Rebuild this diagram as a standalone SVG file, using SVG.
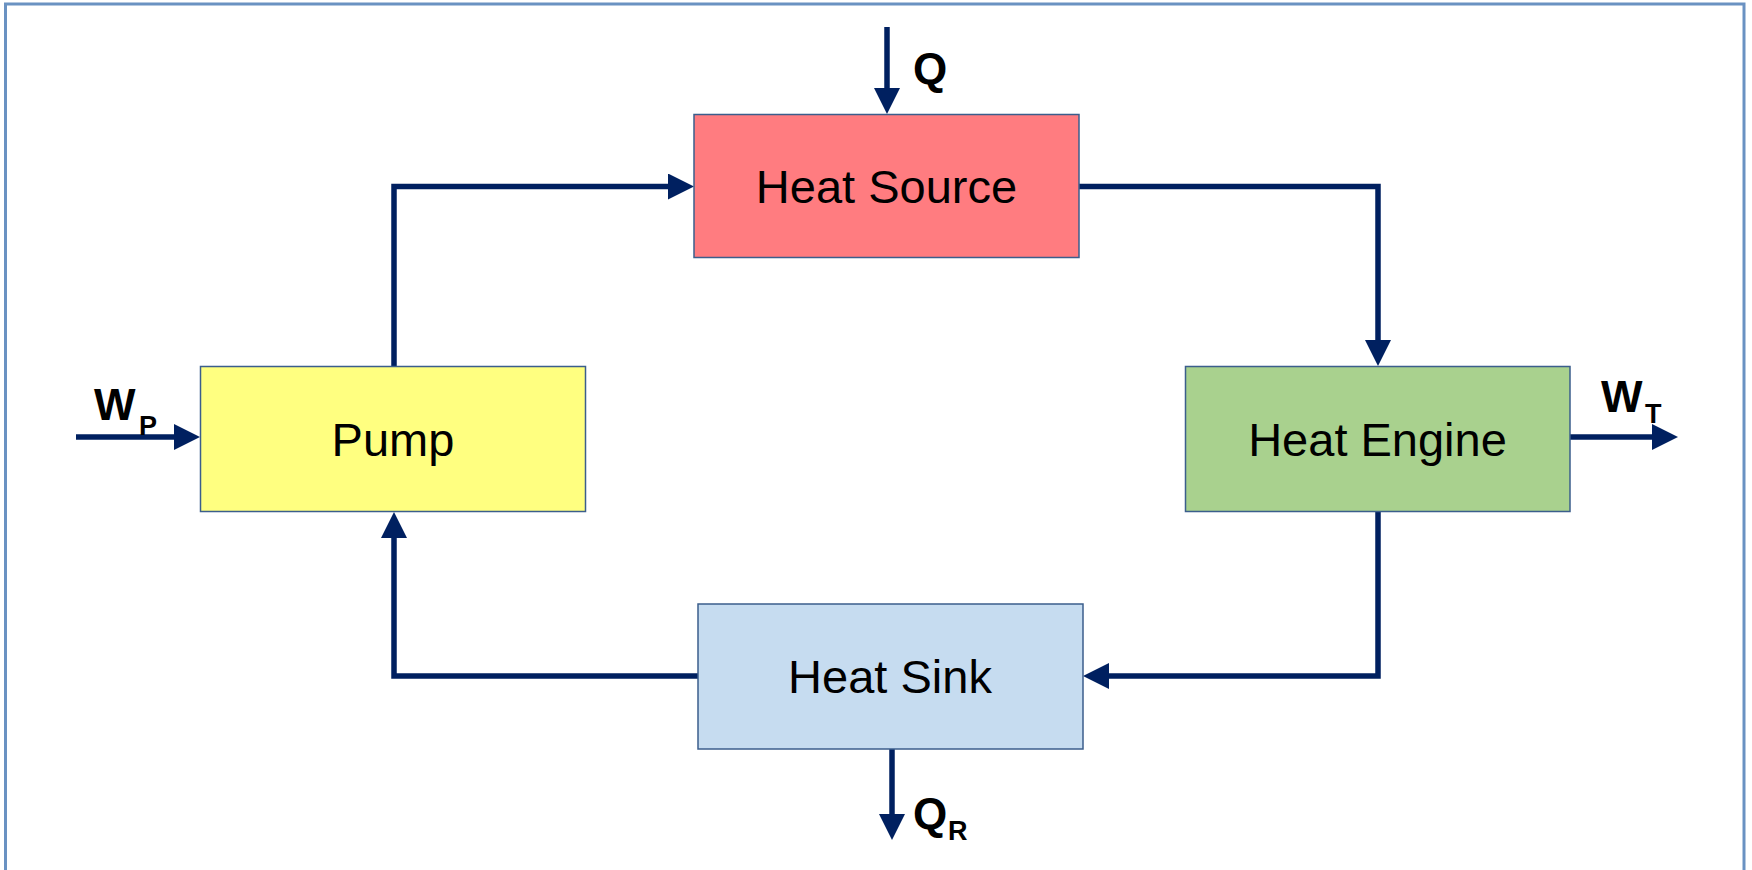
<svg xmlns="http://www.w3.org/2000/svg" width="1752" height="870" viewBox="0 0 1752 870">
  <defs>
    <style>
      .box { stroke: #3B5E8C; stroke-width: 1.5; }
      .label { font-family: "Liberation Sans", Arial, sans-serif; font-size: 47px; fill: #000; text-anchor: middle; }
      .sym { font-family: "Liberation Sans", Arial, sans-serif; font-weight: bold; font-size: 44px; fill: #000; }
      .sub { font-family: "Liberation Sans", Arial, sans-serif; font-weight: bold; font-size: 27px; fill: #000; }
      .flow { fill: none; stroke: #002060; stroke-width: 5.5; stroke-linejoin: miter; marker-end: url(#head); }
    </style>
    <marker id="head" viewBox="0 0 26 26" refX="1" refY="13" markerWidth="26" markerHeight="26" markerUnits="userSpaceOnUse" orient="auto">
      <path d="M0,0 L26,13 L0,26 Z" fill="#002060"/>
    </marker>
  </defs>

  <rect width="1752" height="870" fill="#FFFFFF"/>
  <!-- outer frame (open at the bottom edge) -->
  <rect x="5.5" y="4" width="1738.5" height="900" fill="none" stroke="#6A92C2" stroke-width="3"/>

  <g id="connectors">
    <path class="flow" d="M394,366 V186.5 H669"/>
    <path class="flow" d="M1079,186.5 H1378 V341"/>
    <path class="flow" d="M1378,512 V676 H1108"/>
    <path class="flow" d="M698,676 H394 V537"/>
    <path class="flow" d="M887,27 V89"/>
    <path class="flow" d="M892,749 V815"/>
    <path class="flow" d="M76,437 H175"/>
    <path class="flow" d="M1570,437 H1653"/>
  </g>

  <g id="heat-source">
    <rect class="box" x="694" y="114.5" width="385" height="143" fill="#FF7C80"/>
    <text class="label" x="886.5" y="203">Heat Source</text>
  </g>

  <g id="pump">
    <rect class="box" x="200.5" y="366.5" width="385" height="145" fill="#FFFF80"/>
    <text class="label" x="393" y="456">Pump</text>
  </g>

  <g id="heat-engine">
    <rect class="box" x="1185.5" y="366.5" width="384.5" height="145" fill="#A9D18E"/>
    <text class="label" x="1377.5" y="456">Heat Engine</text>
  </g>

  <g id="heat-sink">
    <rect class="box" x="698" y="604" width="385" height="145" fill="#C6DCF0"/>
    <text class="label" x="890" y="693">Heat Sink</text>
  </g>

  <g id="labels">
    <text class="sym" x="913" y="84">Q</text>
    <text class="sym" x="94" y="420">W</text>
    <text class="sub" x="139" y="435">P</text>
    <text class="sym" x="1601" y="412">W</text>
    <text class="sub" x="1645" y="423">T</text>
    <text class="sym" x="913" y="829">Q</text>
    <text class="sub" x="948" y="840">R</text>
  </g>
</svg>
